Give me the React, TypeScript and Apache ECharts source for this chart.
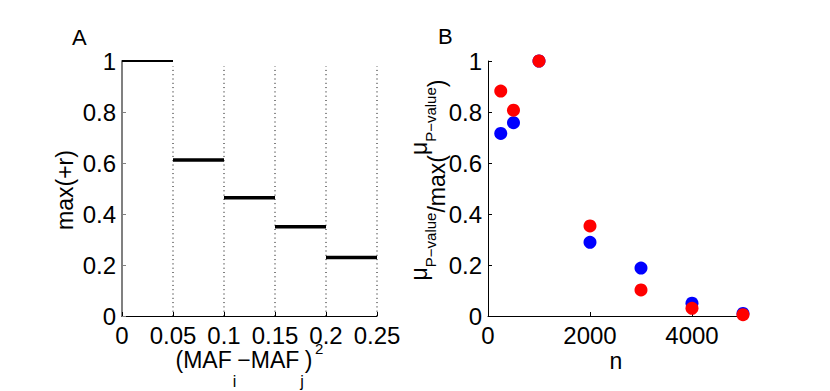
import React, { useEffect, useRef } from "react";
import * as echarts from "echarts";

// Panel A data
const stepEdges = [0, 0.05, 0.1, 0.15, 0.2, 0.25];
const stepValues = [1, 0.612, 0.464, 0.35, 0.229];
const stepWidths = [2, 3.5, 3.5, 3.5, 3.5];
const dividerX = [0.05, 0.1, 0.15, 0.2, 0.25];
const dividerTop = 0.98;
const xTicksA = [0, 0.05, 0.1, 0.15, 0.2, 0.25];
const yTicks = [0, 0.2, 0.4, 0.6, 0.8, 1];

// Panel B data
const nValues = [250, 500, 1000, 2000, 3000, 4000, 5000];
const blueValues = [0.716, 0.758, 1.0, 0.289, 0.188, 0.05, 0.01];
const redValues = [0.882, 0.807, 1.0, 0.353, 0.102, 0.03, 0.005];
const xTicksB = [0, 2000, 4000];

const FONT = "'Liberation Sans', Arial, Helvetica, sans-serif";
const TICK_FS = 24;
const NAME_FS = 23;
const SUB_FS = 15;

export default function App() {
  const ref = useRef<HTMLDivElement>(null);

  useEffect(() => {
    document.body.style.margin = "0";
    if (!ref.current) return;
    const chart = echarts.init(ref.current, undefined, { renderer: "svg" });

    const fmt = (v: number) => String(+Number(v).toFixed(4));

    const stepSeries = stepValues.map((v, i) => ({
      type: "line",
      xAxisIndex: 0,
      yAxisIndex: 0,
      data: [
        [stepEdges[i], v],
        [stepEdges[i + 1], v],
      ],
      symbol: "none",
      clip: false,
      silent: true,
      z: 3,
      lineStyle: { color: "#000", width: stepWidths[i], cap: "butt" },
    }));

    const dividerSeries = dividerX.map((x) => ({
      type: "line",
      xAxisIndex: 0,
      yAxisIndex: 0,
      data: [
        [x, 0],
        [x, dividerTop],
      ],
      symbol: "none",
      clip: false,
      silent: true,
      z: 1,
      lineStyle: { color: "#000", width: 1, type: [1, 3.3] },
    }));

    const tickLabel = (values: number[]) => ({
      customValues: values,
      formatter: fmt,
      fontSize: TICK_FS,
      color: "#000",
      fontFamily: FONT,
    });

    const option: any = {
      animation: false,
      backgroundColor: "#fff",
      textStyle: { fontFamily: FONT },
      grid: [
        { left: 122, top: 61, width: 255, height: 255 },
        { left: 488, top: 61, width: 255, height: 255 },
      ],
      xAxis: [
        {
          type: "value",
          gridIndex: 0,
          min: 0,
          max: 0.25,
          interval: 0.05,
          axisLine: { show: true, lineStyle: { color: "#000", width: 1 } },
          axisTick: { show: true, inside: true, length: 4, customValues: xTicksA, lineStyle: { color: "#000" } },
          axisLabel: { ...tickLabel(xTicksA), margin: 7 },
          splitLine: { show: false },
        },
        {
          type: "value",
          gridIndex: 1,
          min: 0,
          max: 5000,
          interval: 1000,
          axisLine: { show: true, lineStyle: { color: "#000", width: 1 } },
          axisTick: { show: true, inside: true, length: 4, customValues: xTicksB, lineStyle: { color: "#000" } },
          axisLabel: { ...tickLabel(xTicksB), margin: 7 },
          splitLine: { show: false },
        },
      ],
      yAxis: [
        {
          type: "value",
          gridIndex: 0,
          min: 0,
          max: 1,
          interval: 0.2,
          axisLine: { show: true, lineStyle: { color: "#808080", width: 2 } },
          axisTick: { show: true, inside: true, length: 4, customValues: yTicks, lineStyle: { color: "#808080" } },
          axisLabel: { ...tickLabel(yTicks), margin: 6 },
          splitLine: { show: false },
        },
        {
          type: "value",
          gridIndex: 1,
          min: 0,
          max: 1,
          interval: 0.2,
          axisLine: { show: true, lineStyle: { color: "#000", width: 1 } },
          axisTick: { show: true, inside: true, length: 4, customValues: yTicks, lineStyle: { color: "#000" } },
          axisLabel: { ...tickLabel(yTicks), margin: 6 },
          splitLine: { show: false },
        },
      ],
      series: [
        ...dividerSeries,
        ...stepSeries,
        {
          type: "scatter",
          xAxisIndex: 1,
          yAxisIndex: 1,
          data: nValues.map((n, i) => [n, blueValues[i]]),
          symbol: "circle",
          symbolSize: 13,
          clip: false,
          silent: true,
          z: 2,
          itemStyle: { color: "#0000ff", opacity: 1 },
        },
        {
          type: "scatter",
          xAxisIndex: 1,
          yAxisIndex: 1,
          data: nValues.map((n, i) => [n, redValues[i]]),
          symbol: "circle",
          symbolSize: 13,
          clip: false,
          silent: true,
          z: 3,
          itemStyle: { color: "#ff0000", opacity: 1 },
        },
      ],
      graphic: [
        {
          type: "text",
          x: 72,
          y: 26,
          style: { text: "A", fontSize: 22, fontFamily: FONT, fill: "#000", align: "left", verticalAlign: "top" },
        },
        {
          type: "text",
          x: 438,
          y: 25,
          style: { text: "B", fontSize: 22, fontFamily: FONT, fill: "#000", align: "left", verticalAlign: "top" },
        },
        {
          type: "text",
          x: 65,
          y: 190,
          rotation: Math.PI / 2,
          style: {
            text: "max(+r)",
            fontSize: NAME_FS,
            fontFamily: FONT,
            fill: "#000",
            align: "center",
            verticalAlign: "middle",
          },
        },
        {
          type: "text",
          x: 244,
          y: 348,
          style: {
            text: "{m|(MAF}{s|i}{m|\u2212MAF}{s|j}{m|)}",
            fontFamily: FONT,
            fill: "#000",
            align: "center",
            verticalAlign: "top",
            rich: {
              m: { fontSize: NAME_FS, fontFamily: FONT, fill: "#000", verticalAlign: "top", padding: [0, 0, 0, 0] },
              s: { fontSize: SUB_FS + 1, fontFamily: FONT, fill: "#000", verticalAlign: "top", padding: [25, 1, 0, 1] },
            },
          },
        },
        {
          type: "text",
          x: 315,
          y: 341,
          style: { text: "2", fontSize: SUB_FS, fontFamily: FONT, fill: "#000", align: "left", verticalAlign: "top" },
        },
        {
          type: "text",
          x: 616,
          y: 349,
          style: { text: "n", fontSize: NAME_FS, fontFamily: FONT, fill: "#000", align: "center", verticalAlign: "top" },
        },
        {
          type: "text",
          x: 407,
          y: 180,
          rotation: Math.PI / 2,
          style: {
            text: "{u|\u03bc}{s|P\u2212value}{m|/max(}{u|\u03bc}{s|P\u2212value}{m|)}",
            fontFamily: FONT,
            fill: "#000",
            align: "center",
            verticalAlign: "top",
            rich: {
              u: { fontSize: NAME_FS, fontFamily: FONT, fill: "#000", verticalAlign: "top", padding: [0, 0, 0, 0] },
              s: { fontSize: SUB_FS, fontFamily: FONT, fill: "#000", verticalAlign: "top", padding: [16, 0, 0, 0] },
              m: { fontSize: NAME_FS, fontFamily: FONT, fill: "#000", verticalAlign: "top", padding: [18, 0, 0, 0] },
            },
          },
        },
      ],
    };

    chart.setOption(option);
    return () => chart.dispose();
  }, []);

  return <div ref={ref} style={{ width: 830, height: 391 }} />;
}
